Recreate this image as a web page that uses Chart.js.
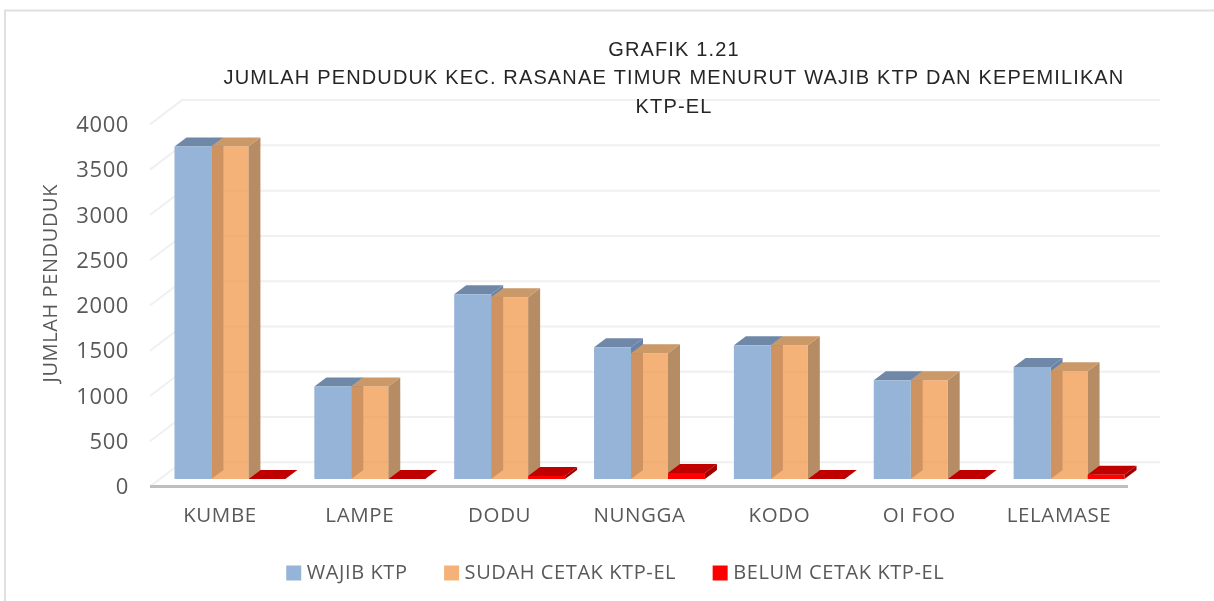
<!DOCTYPE html>
<html><head><meta charset="utf-8">
<style>html,body{margin:0;padding:0;background:#fff}#w{position:relative;width:1214px;height:601px}canvas{display:block}</style>
<script src="https://cdn.jsdelivr.net/npm/chart.js@4"></script>
</head><body><div id="w"><canvas id="c" width="1214" height="601"></canvas></div>
<script>
const categories = ['KUMBE','LAMPE','DODU','NUNGGA','KODO','OI FOO','LELAMASE'];
const wajibKtp = [3672,1023,2041,1455,1477,1090,1237];
const sudahCetak = [3672,1023,2008,1388,1477,1090,1189];
const belumCetak = [0,0,33,67,0,0,48];
const titleLines = ['GRAFIK 1.21','JUMLAH PENDUDUK KEC. RASANAE TIMUR MENURUT WAJIB KTP DAN KEPEMILIKAN','KTP-EL'];
const yTitle = 'JUMLAH PENDUDUK';

const GREY = '#595959', DX = 12, DY = -9;
const faces = [
  {side:'#6A84A8', top:'#6F88A8'},
  {side:'#B58C63', top:'#CB9868'},
  {side:'#A00000', top:'#C00000'}
];
const spacing = ctx => { ctx.letterSpacing = '0.6px'; };

const depthPlugin = {
  id:'depth',
  beforeUpdate(chart){ spacing(chart.ctx); },
  beforeDraw(chart){
    const ctx = chart.ctx, a = chart.chartArea, y = chart.scales.y;
    spacing(ctx);
    ctx.save();
    ctx.strokeStyle = '#E0E0E0'; ctx.lineWidth = 2;
    ctx.beginPath(); ctx.moveTo(5,601); ctx.lineTo(5,10.5); ctx.lineTo(1214,10.5); ctx.stroke();
    ctx.strokeStyle = '#F0F0F0'; ctx.lineWidth = 2;
    y.ticks.forEach(t => {
      const p = y.getPixelForValue(t.value);
      ctx.beginPath();
      ctx.moveTo(a.left-10, p+7.5);
      ctx.lineTo(a.left+22, p-16.8);
      ctx.lineTo(a.right+21, p-16.8);
      ctx.stroke();
    });
    ctx.strokeStyle = '#BFBFBF'; ctx.lineWidth = 3;
    const p0 = y.getPixelForValue(0);
    ctx.beginPath(); ctx.moveTo(a.left-10,p0+7.5); ctx.lineTo(a.right-11,p0+7.5); ctx.stroke();
    ctx.restore();
  },
  beforeDatasetsDraw(chart){
    const ctx = chart.ctx;
    ctx.save();
    faces.forEach((f, i) => {
      chart.getDatasetMeta(i).data.forEach(el => {
        const {x,y,base,width} = el.getProps(['x','y','base','width'], true);
        const l = x-width/2, r = x+width/2;
        ctx.fillStyle = f.side;
        ctx.beginPath(); ctx.moveTo(r,y); ctx.lineTo(r+DX,y+DY); ctx.lineTo(r+DX,base+DY); ctx.lineTo(r,base); ctx.closePath(); ctx.fill();
        ctx.fillStyle = f.top;
        ctx.beginPath(); ctx.moveTo(l,y); ctx.lineTo(l+DX,y+DY); ctx.lineTo(r+DX,y+DY); ctx.lineTo(r,y); ctx.closePath(); ctx.fill();
      });
    });
    ctx.restore();
  },
  afterLayout(chart){
    const b = chart.titleBlock;
    b.left = 134; b.right = 1214;
    if (!b._spaced) {
      const d = b.draw;
      b.draw = function(a){ const c = this.ctx; c.letterSpacing = '1.15px'; d.call(this, a); spacing(c); };
      b._spaced = true;
    }
    const s = chart.scales.y;
    if (!s._shifted) {
      const dt = s.drawTitle;
      s.drawTitle = function(){ const c = this.ctx; c.save(); c.translate(0,-14.7); dt.call(this); c.restore(); };
      s._shifted = true;
    }
    chart.legend.left += 48; chart.legend.right += 48;
  }
};

new Chart(document.getElementById('c'), {
  type:'bar',
  plugins:[depthPlugin],
  data:{labels:categories, datasets:[
    {label:'WAJIB KTP', data:wajibKtp, backgroundColor:'#96B3D8'},
    {label:'SUDAH CETAK KTP-EL', data:sudahCetak, backgroundColor:'rgba(242,152,75,0.75)'},
    {label:'BELUM CETAK KTP-EL', data:belumCetak, backgroundColor:'#FF0000'}
  ]},
  options:{
    responsive:false, animation:false, devicePixelRatio:1,
    layout:{padding:{left:0,right:75,top:0,bottom:8}},
    datasets:{bar:{barPercentage:1, categoryPercentage:0.793, borderWidth:0}},
    scales:{
      x:{
        grid:{display:false}, border:{display:false},
        ticks:{color:GREY,font:{family:'"Open Sans"',size:20.5},padding:16.5,labelOffset:-10,maxRotation:0,autoSkip:false},
        afterFit(s){ s.height = 43; }
      },
      y:{
        min:0,max:4000,
        grid:{display:false}, border:{display:false},
        ticks:{stepSize:500,color:GREY,font:{family:'"Open Sans"',size:22},padding:23,labelOffset:9,callback:v=>String(v)},
        title:{display:true,text:yTitle,color:GREY,font:{family:'"Open Sans"',size:20},padding:{top:39,bottom:0}},
        afterFit(s){ s.width = 160; }
      }
    },
    plugins:{
      tooltip:{enabled:false},
      title:{display:true,text:titleLines,color:'#262626',font:{family:'"Liberation Sans"',size:20,weight:'normal',lineHeight:1.425},padding:{top:35.75,bottom:-4.35}},
      legend:{position:'bottom',labels:{usePointStyle:true,pointStyle:'rect',boxWidth:6,boxHeight:15,padding:41,color:GREY,font:{family:'"Open Sans"',size:20}}}
    }
  }
});
</script></body></html>
